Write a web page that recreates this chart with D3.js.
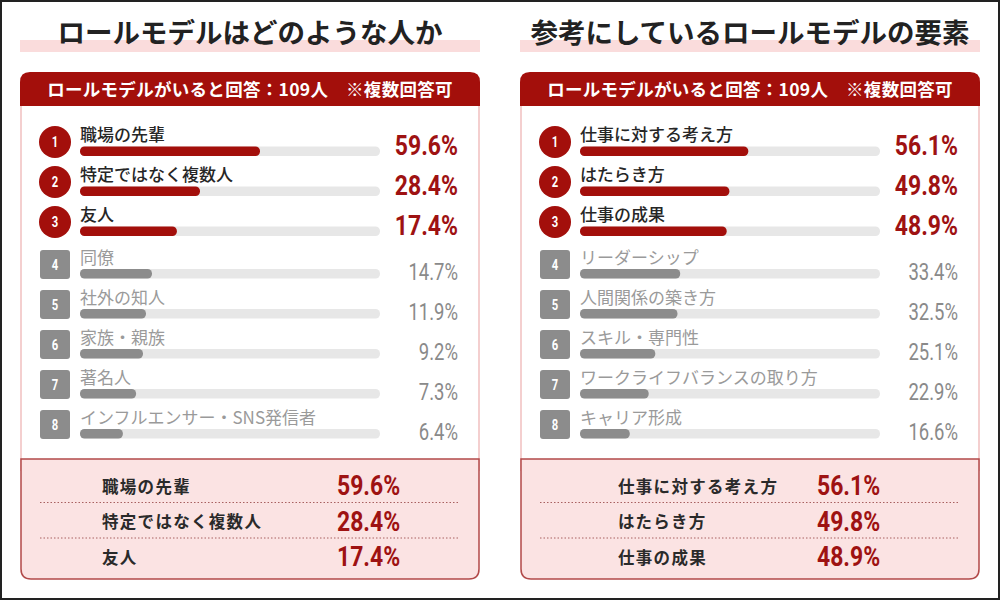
<!DOCTYPE html>
<html>
<head>
<meta charset="utf-8">
<script src="https://cdn.jsdelivr.net/npm/d3@7"></script>
<style>
  html, body { margin: 0; padding: 0; background: #fff; }
  svg { display: block; }
  .jp { font-family: "Noto Sans CJK JP", "Noto Sans", sans-serif; }
  .num { font-family: "Roboto", "DejaVu Sans", sans-serif; }
</style>
</head>
<body>
<div id="chart"></div>
<script>
// ---- data ----
const headerText = "ロールモデルがいると回答：109人　※複数回答可";

const leftTitle = "ロールモデルはどのような人か";
const leftLabels = ["職場の先輩", "特定ではなく複数人", "友人", "同僚", "社外の知人", "家族・親族", "著名人", "インフルエンサー・SNS発信者"];
const leftValues = [59.6, 28.4, 17.4, 14.7, 11.9, 9.2, 7.3, 6.4];
// bar lengths as drawn in the source (not proportional to the labels)
const leftBarShown = [60, 40, 32.3, 24, 22, 21, 18.7, 14.3];

const rightTitle = "参考にしているロールモデルの要素";
const rightLabels = ["仕事に対する考え方", "はたらき方", "仕事の成果", "リーダーシップ", "人間関係の築き方", "スキル・専門性", "ワークライフバランスの取り方", "キャリア形成"];
const rightValues = [56.1, 49.8, 48.9, 33.4, 32.5, 25.1, 22.9, 16.6];

const topN = 3;

// ---- colors ----
const red = "#a30f0b";
const redText = "#9e1212";
const grey = "#8c8c8c";
const greyText = "#9a9a9a";
const track = "#e7e7e7";

const svg = d3.select("#chart").append("svg")
    .attr("width", 1000)
    .attr("height", 600);

// outer frame
svg.append("rect")
    .attr("x", 1).attr("y", 1).attr("width", 998).attr("height", 598)
    .attr("fill", "#fff").attr("stroke", "#222").attr("stroke-width", 2);

function rowY(i) {
    return i < topN ? 142 + 40 * i : 264.5 + 40 * (i - topN);
}

// condensed-looking numbers: squeeze a regular font horizontally
function condensed(sel, x, y, sx) {
    return sel.append("g")
        .attr("transform", d => `translate(${typeof x === "function" ? x(d) : x},${typeof y === "function" ? y(d) : y}) scale(${sx},1)`)
        .append("text")
        .attr("class", "num");
}

function drawPanel(px, title, labels, values, bars, opt) {
    const g = svg.append("g");

    // title with pink band behind it
    g.append("rect")
        .attr("x", px).attr("y", 40).attr("width", 460).attr("height", 12)
        .attr("fill", "#fadcdc");
    g.append("text")
        .attr("class", "jp")
        .attr("x", px + 230).attr("y", 43)
        .attr("text-anchor", "middle")
        .attr("font-size", 27.5).attr("font-weight", 700)
        .attr("fill", "#222")
        .text(title);

    // body
    g.append("rect")
        .attr("x", px + 1).attr("y", 100).attr("width", 458).attr("height", 370)
        .attr("fill", "#fff").attr("stroke", "#f4cfcf").attr("stroke-width", 2);

    // header with rounded top corners
    const r = 10, x0 = px, x1 = px + 460, y0 = 72, y1 = 106;
    g.append("path")
        .attr("d", `M${x0},${y1} V${y0 + r} Q${x0},${y0} ${x0 + r},${y0} H${x1 - r} Q${x1},${y0} ${x1},${y0 + r} V${y1} Z`)
        .attr("fill", red);
    g.append("text")
        .attr("class", "jp")
        .attr("x", px + 230).attr("y", 96)
        .attr("text-anchor", "middle")
        .attr("font-size", 17.5).attr("font-weight", 700)
        .attr("letter-spacing", 0.3)
        .attr("fill", "#fff")
        .text(headerText);

    const x = d3.scaleLinear().domain([0, 100]).range([px + 60, px + 360]);

    const rows = g.selectAll(".row")
        .data(labels.map((l, i) => ({label: l, value: values[i], bar: bars[i], i})))
        .join("g")
        .attr("class", "row");

    // rank markers
    rows.filter(d => d.i < topN).append("circle")
        .attr("cx", px + 35).attr("cy", d => rowY(d.i))
        .attr("r", 16).attr("fill", red);
    rows.filter(d => d.i >= topN).append("rect")
        .attr("x", px + 20).attr("y", d => rowY(d.i) - 14.5)
        .attr("width", 30).attr("height", 29).attr("rx", 3)
        .attr("fill", grey);
    condensed(rows, px + 35, d => rowY(d.i) + 5, 0.75)
        .attr("text-anchor", "middle")
        .attr("font-size", 15).attr("font-weight", 700)
        .attr("fill", "#fff")
        .text(d => d.i + 1);

    // labels
    rows.append("text")
        .attr("class", "jp")
        .attr("x", px + 60).attr("y", d => rowY(d.i) - 1)
        .attr("font-size", 17)
        .attr("font-weight", d => d.i < topN ? 500 : 400)
        .attr("fill", d => d.i < topN ? "#262626" : greyText)
        .text(d => d.label);

    // bars
    rows.append("rect")
        .attr("x", x(0)).attr("y", d => rowY(d.i) + 4.5)
        .attr("width", x(100) - x(0)).attr("height", 9.5).attr("rx", 4.5)
        .attr("fill", track);
    rows.append("rect")
        .attr("x", x(0)).attr("y", d => rowY(d.i) + 4.5)
        .attr("width", d => x(d.bar) - x(0)).attr("height", 9.5).attr("rx", 4.5)
        .attr("fill", d => d.i < topN ? red : grey);

    // values
    const tops = rows.filter(d => d.i < topN);
    const rest = rows.filter(d => d.i >= topN);
    condensed(tops, px + 438, d => rowY(d.i) + 13, 0.82)
        .attr("text-anchor", "end")
        .attr("font-size", 28).attr("font-weight", 700)
        .attr("fill", redText)
        .text(d => d.value.toFixed(1) + "%");
    condensed(rest, px + 438, d => rowY(d.i) + 15.5, 0.77)
        .attr("text-anchor", "end")
        .attr("font-size", 24).attr("font-weight", 400)
        .attr("fill", "#8a8a8a")
        .text(d => d.value.toFixed(1) + "%");

    // summary box at the bottom
    const by0 = 459, by1 = 579;
    g.append("path")
        .attr("d", `M${x0 + 1},${by0} H${x1 - 1} V${by1 - r} Q${x1 - 1},${by1} ${x1 - 1 - r},${by1} H${x0 + 1 + r} Q${x0 + 1},${by1} ${x0 + 1},${by1 - r} Z`)
        .attr("fill", "#fbe3e3").attr("stroke", "#b24a4a").attr("stroke-width", 1.5);

    const top = labels.slice(0, topN).map((l, i) => ({label: l, value: values[i], i}));
    g.selectAll(".sep")
        .data(top.slice(0, topN - 1))
        .join("line")
        .attr("x1", px + 20).attr("x2", px + 440)
        .attr("y1", d => 502.5 + 35.5 * d.i).attr("y2", d => 502.5 + 35.5 * d.i)
        .attr("stroke", "#a86060").attr("stroke-width", 1)
        .attr("stroke-dasharray", "1.5,2");
    g.selectAll(".sumLabel")
        .data(top)
        .join("text")
        .attr("class", "jp")
        .attr("x", px + opt.sumLabelX).attr("y", d => 492.5 + 35.5 * d.i)
        .attr("font-size", 16.5).attr("font-weight", 700)
        .attr("letter-spacing", 1.3)
        .attr("fill", "#2a2a2a")
        .text(d => d.label);
    const sums = g.selectAll(".sumValue")
        .data(top)
        .join("g")
        .attr("class", "sumValue");
    condensed(sums, px + opt.sumValueX, d => 495 + 35.5 * d.i, 0.82)
        .attr("font-size", 28).attr("font-weight", 700)
        .attr("fill", redText)
        .text(d => d.value.toFixed(1) + "%");
}

drawPanel(20, leftTitle, leftLabels, leftValues, leftBarShown, {sumLabelX: 82, sumValueX: 317});
drawPanel(520, rightTitle, rightLabels, rightValues, rightValues, {sumLabelX: 98, sumValueX: 297});
</script>
</body>
</html>
